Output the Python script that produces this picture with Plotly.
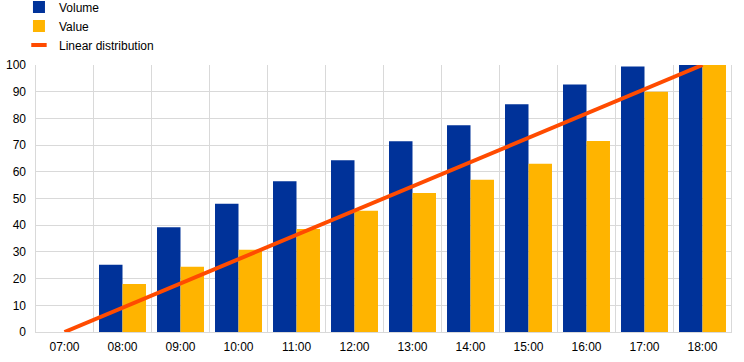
import plotly.graph_objects as go

categories = ["07:00", "08:00", "09:00", "10:00", "11:00", "12:00", "13:00",
              "14:00", "15:00", "16:00", "17:00", "18:00"]
volume = [None, 25.2, 39.2, 48.0, 56.5, 64.3, 71.4, 77.4, 85.3, 92.7, 99.4, 100.0]
value = [None, 18.0, 24.4, 30.8, 38.6, 45.4, 52.1, 57.0, 63.0, 71.5, 90.0, 100.0]
linear = [0.0, 9.09, 18.18, 27.27, 36.36, 45.45, 54.55, 63.64, 72.73, 81.82, 90.91, 100.0]
y_ticks = [0, 10, 20, 30, 40, 50, 60, 70, 80, 90, 100]

fig = go.Figure()
fig.add_trace(go.Bar(x=categories, y=volume, name="Volume",
                     marker=dict(color="#003299", line=dict(width=0))))
fig.add_trace(go.Bar(x=categories, y=value, name="Value",
                     marker=dict(color="#ffb400", line=dict(width=0))))
fig.add_trace(go.Scatter(x=categories, y=linear, name="Linear distribution",
                         mode="lines", line=dict(color="#ff4b00", width=4),
                         cliponaxis=False, showlegend=False))
# legend entry with a short line symbol
fig.add_trace(go.Scatter(x=[None], y=[None], name="Linear distribution",
                         mode="markers",
                         marker=dict(symbol="line-ew-open", size=11, color="#ff4b00",
                                     line=dict(color="#ff4b00", width=4))))

fig.update_layout(
    width=744, height=362,
    margin=dict(l=35, r=12, t=65, b=30, autoexpand=False),
    paper_bgcolor="white", plot_bgcolor="white",
    font=dict(family="Liberation Sans, Arial, sans-serif", size=12, color="#000000"),
    barmode="group", bargap=0.19, bargroupgap=0,
    showlegend=True,
    legend=dict(x=-0.023, y=1.272, xanchor="left", yanchor="top",
                orientation="v", font=dict(size=12), tracegroupgap=0,
                bgcolor="rgba(0,0,0,0)"),
    xaxis=dict(type="category", showgrid=False, showline=True, linecolor="#d9d9d9",
               linewidth=1, ticks="", tickfont=dict(size=12), ticklabelstandoff=4),
    yaxis=dict(range=[0, 100], tickvals=y_ticks, showgrid=True, gridcolor="#d9d9d9",
               gridwidth=1, zeroline=False, showline=False, ticks="",
               tickfont=dict(size=12), ticklabelstandoff=8),
)

# vertical gridlines at category boundaries
for i in range(len(categories) + 1):
    fig.add_shape(type="line", xref="x", yref="paper", x0=i - 0.5, x1=i - 0.5,
                  y0=0, y1=1, line=dict(color="#d9d9d9", width=1), layer="below")

fig.write_html("out.html", config={"displayModeBar": False},
               post_script="document.body.style.margin='0px';")
